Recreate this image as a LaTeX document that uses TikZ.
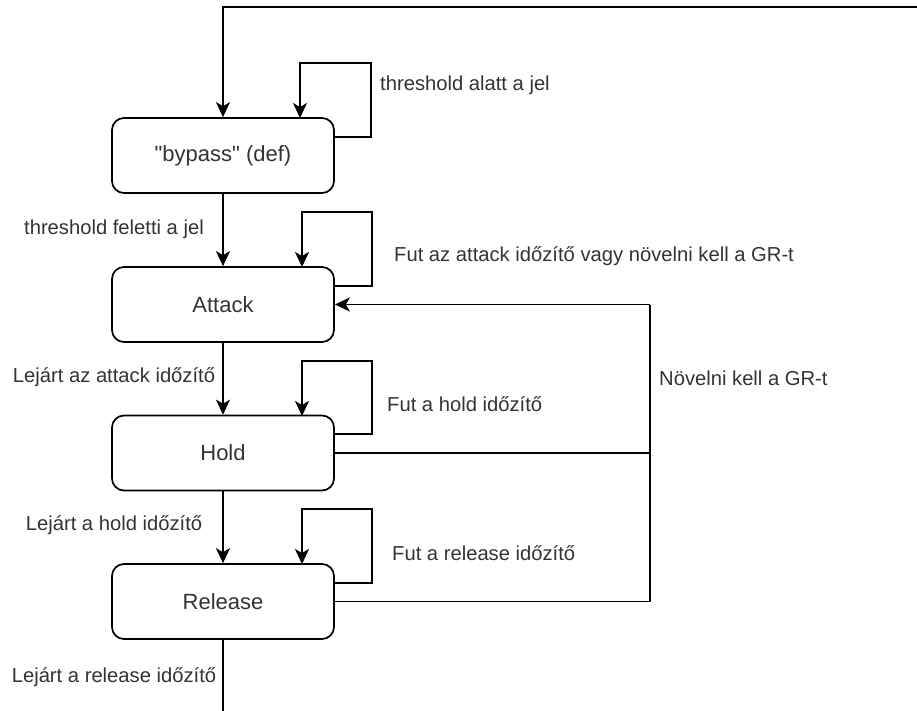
\documentclass[tikz,border=0pt]{standalone}
\usepackage{fontspec}
\setmainfont{Liberation Sans}[Ligatures=TeXOff]
\usetikzlibrary{arrows.meta}
\definecolor{txt}{HTML}{333333}
\tikzset{
  x=1pt, y=-1pt,
  state/.style={draw=black, line width=1.7pt, rounded corners=12pt, minimum width=222pt, minimum height=75pt, inner sep=0pt, font=\fontsize{22}{26}\selectfont, text=txt},
  lbl/.style={inner sep=0pt, font=\fontsize{20.2}{24}\selectfont, text=txt},
  conn/.style={draw=black, line width=1.7pt},
  arr/.style={conn, -{Stealth[length=15pt,width=14pt,inset=4pt]}},
}
\begin{document}
\begin{tikzpicture}
\useasboundingbox (0,0) rectangle (917,711);
\node[state] (byp) at (223,155.5) {"bypass" (def)};
\node[state] (att) at (223,304.5) {Attack};
\node[state] (hold) at (223,453) {Hold};
\node[state] (rel) at (223,601.5) {Release};

% feedback loop entry (from outside the view)
\coordinate (topR) at (917,7);
\coordinate (botE) at (223,711);
\draw[arr] (topR) -- (223,7) -- (byp.north);
\draw[conn] (rel.south) -- (botE);

% main transitions
\draw[arr] (byp.south) -- (att.north);
\draw[arr] (att.south) -- (hold.north);
\draw[arr] (hold.south) -- (rel.north);

% self loops
\draw[arr] (byp.east |- 0,137) -- (371,137) -- (371,63) -- (300,63) -- (300,118);
\draw[arr] (att.east |- 0,286) -- (372,286) -- (372,212) -- (302,212) -- (302,267);
\draw[arr] (hold.east |- 0,434) -- (372,434) -- (372,361) -- (302,361) -- (302,416);
\draw[arr] (rel.east |- 0,583) -- (372,583) -- (372,509) -- (302,509) -- (302,564);

% returns to Attack
\coordinate (ret) at (650,304.5);
\draw[conn] (hold.east) -| (ret);
\draw[conn] (rel.east) -| (ret);
\draw[arr] (ret) -- (att.east);

% labels
\node[lbl, anchor=west] (l1) at (380,85) {threshold alatt a jel};
\node[lbl] (l2) at (114,229) {threshold feletti a jel};
\node[lbl, anchor=west] (l3) at (394,256) {Fut az attack időzítő vagy növelni kell a GR-t};
\node[lbl] (l4) at (114,377) {Lejárt az attack időzítő};
\node[lbl, anchor=west] (l5) at (387,404) {Fut a hold időzítő};
\node[lbl, anchor=west] (l6) at (659,378) {Növelni kell a GR-t};
\node[lbl] (l7) at (114,525) {Lejárt a hold időzítő};
\node[lbl, anchor=west] (l8) at (392,553) {Fut a release időzítő};
\node[lbl] (l9) at (114,677) {Lejárt a release időzítő};
\end{tikzpicture}
\end{document}
